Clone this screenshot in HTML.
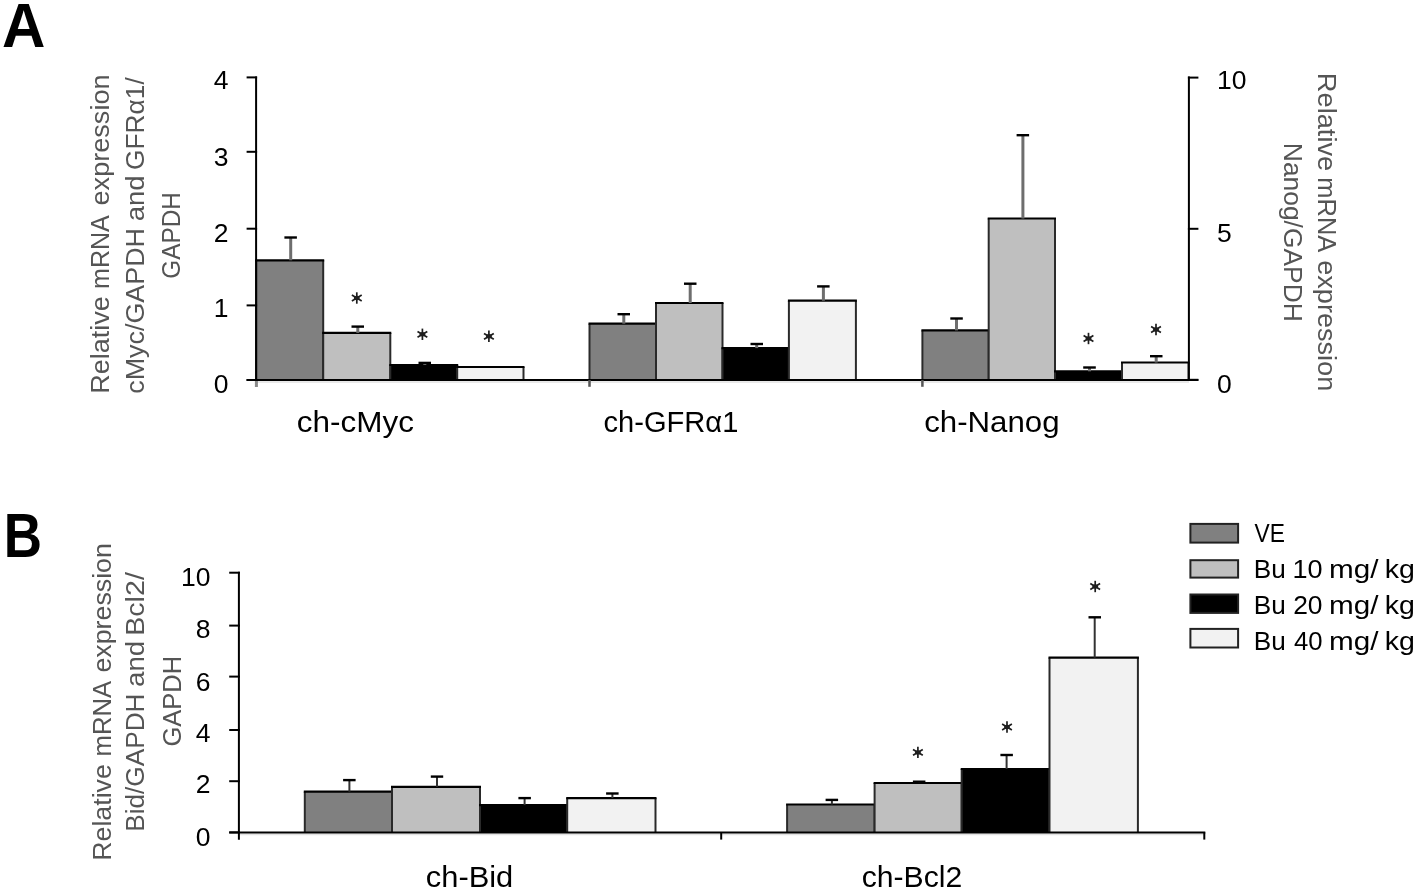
<!DOCTYPE html>
<html><head><meta charset="utf-8"><style>
html,body{margin:0;padding:0;background:#fff;overflow:hidden;}
svg{display:block;filter:grayscale(100%) blur(0.45px);}
text{font-family:"Liberation Sans",sans-serif;font-kerning:none;}
</style></head><body>
<svg width="1416" height="892" viewBox="0 0 1416 892">
<rect width="1416" height="892" fill="#fff"/>
<text x="2.10" y="46.80" font-size="62.3" fill="#000" font-weight="bold" textLength="43.38" lengthAdjust="spacingAndGlyphs">A</text>
<line x1="256.0" y1="382.0" x2="1189.0" y2="382.0" stroke="#e2e2e2" stroke-width="1.6"/>
<rect x="256.2" y="260.3" width="67.0" height="119.7" fill="#808080"/>
<line x1="256.2" y1="260.3" x2="256.2" y2="380.0" stroke="#2a2a2a" stroke-width="2"/>
<line x1="323.2" y1="260.3" x2="323.2" y2="380.0" stroke="#2a2a2a" stroke-width="2"/>
<line x1="255.2" y1="260.3" x2="324.2" y2="260.3" stroke="#000" stroke-width="2.2"/>
<rect x="323.2" y="332.9" width="67.1" height="47.1" fill="#bfbfbf"/>
<line x1="323.2" y1="332.9" x2="323.2" y2="380.0" stroke="#2a2a2a" stroke-width="2"/>
<line x1="390.3" y1="332.9" x2="390.3" y2="380.0" stroke="#2a2a2a" stroke-width="2"/>
<line x1="322.2" y1="332.9" x2="391.3" y2="332.9" stroke="#000" stroke-width="2.2"/>
<rect x="390.3" y="365.0" width="66.9" height="15.0" fill="#000000"/>
<line x1="390.3" y1="365.0" x2="390.3" y2="380.0" stroke="#2a2a2a" stroke-width="2"/>
<line x1="457.2" y1="365.0" x2="457.2" y2="380.0" stroke="#2a2a2a" stroke-width="2"/>
<line x1="389.3" y1="365.0" x2="458.2" y2="365.0" stroke="#000" stroke-width="2.2"/>
<rect x="457.2" y="367.0" width="66.3" height="13.0" fill="#f2f2f2"/>
<line x1="457.2" y1="367.0" x2="457.2" y2="380.0" stroke="#2a2a2a" stroke-width="2"/>
<line x1="523.5" y1="367.0" x2="523.5" y2="380.0" stroke="#2a2a2a" stroke-width="2"/>
<line x1="456.2" y1="367.0" x2="524.5" y2="367.0" stroke="#000" stroke-width="2.2"/>
<rect x="589.5" y="323.7" width="66.5" height="56.3" fill="#808080"/>
<line x1="589.5" y1="323.7" x2="589.5" y2="380.0" stroke="#2a2a2a" stroke-width="2"/>
<line x1="656.0" y1="323.7" x2="656.0" y2="380.0" stroke="#2a2a2a" stroke-width="2"/>
<line x1="588.5" y1="323.7" x2="657.0" y2="323.7" stroke="#000" stroke-width="2.2"/>
<rect x="656.0" y="303.0" width="66.5" height="77.0" fill="#bfbfbf"/>
<line x1="656.0" y1="303.0" x2="656.0" y2="380.0" stroke="#2a2a2a" stroke-width="2"/>
<line x1="722.5" y1="303.0" x2="722.5" y2="380.0" stroke="#2a2a2a" stroke-width="2"/>
<line x1="655.0" y1="303.0" x2="723.5" y2="303.0" stroke="#000" stroke-width="2.2"/>
<rect x="722.5" y="348.1" width="66.4" height="31.9" fill="#000000"/>
<line x1="722.5" y1="348.1" x2="722.5" y2="380.0" stroke="#2a2a2a" stroke-width="2"/>
<line x1="788.9" y1="348.1" x2="788.9" y2="380.0" stroke="#2a2a2a" stroke-width="2"/>
<line x1="721.5" y1="348.1" x2="789.9" y2="348.1" stroke="#000" stroke-width="2.2"/>
<rect x="788.9" y="300.7" width="67.0" height="79.3" fill="#f2f2f2"/>
<line x1="788.9" y1="300.7" x2="788.9" y2="380.0" stroke="#2a2a2a" stroke-width="2"/>
<line x1="855.9" y1="300.7" x2="855.9" y2="380.0" stroke="#2a2a2a" stroke-width="2"/>
<line x1="787.9" y1="300.7" x2="856.9" y2="300.7" stroke="#000" stroke-width="2.2"/>
<rect x="922.4" y="330.4" width="66.3" height="49.6" fill="#808080"/>
<line x1="922.4" y1="330.4" x2="922.4" y2="380.0" stroke="#2a2a2a" stroke-width="2"/>
<line x1="988.7" y1="330.4" x2="988.7" y2="380.0" stroke="#2a2a2a" stroke-width="2"/>
<line x1="921.4" y1="330.4" x2="989.7" y2="330.4" stroke="#000" stroke-width="2.2"/>
<rect x="988.7" y="218.5" width="66.3" height="161.5" fill="#bfbfbf"/>
<line x1="988.7" y1="218.5" x2="988.7" y2="380.0" stroke="#2a2a2a" stroke-width="2"/>
<line x1="1055.0" y1="218.5" x2="1055.0" y2="380.0" stroke="#2a2a2a" stroke-width="2"/>
<line x1="987.7" y1="218.5" x2="1056.0" y2="218.5" stroke="#000" stroke-width="2.2"/>
<rect x="1055.0" y="371.3" width="67.0" height="8.7" fill="#000000"/>
<line x1="1055.0" y1="371.3" x2="1055.0" y2="380.0" stroke="#2a2a2a" stroke-width="2"/>
<line x1="1122.0" y1="371.3" x2="1122.0" y2="380.0" stroke="#2a2a2a" stroke-width="2"/>
<line x1="1054.0" y1="371.3" x2="1123.0" y2="371.3" stroke="#000" stroke-width="2.2"/>
<rect x="1122.0" y="362.5" width="66.5" height="17.5" fill="#f2f2f2"/>
<line x1="1122.0" y1="362.5" x2="1122.0" y2="380.0" stroke="#2a2a2a" stroke-width="2"/>
<line x1="1188.5" y1="362.5" x2="1188.5" y2="380.0" stroke="#2a2a2a" stroke-width="2"/>
<line x1="1121.0" y1="362.5" x2="1189.5" y2="362.5" stroke="#000" stroke-width="2.2"/>
<line x1="290.7" y1="237.5" x2="290.7" y2="260.3" stroke="#6e6e6e" stroke-width="3"/>
<line x1="284.4" y1="237.5" x2="296.9" y2="237.5" stroke="#000" stroke-width="2.4"/>
<line x1="357.8" y1="326.6" x2="357.8" y2="332.9" stroke="#6e6e6e" stroke-width="3"/>
<line x1="351.5" y1="326.6" x2="364.0" y2="326.6" stroke="#000" stroke-width="2.4"/>
<line x1="424.8" y1="362.9" x2="424.8" y2="365.0" stroke="#6e6e6e" stroke-width="3"/>
<line x1="418.5" y1="362.9" x2="431.0" y2="362.9" stroke="#000" stroke-width="2.4"/>
<line x1="623.8" y1="314.2" x2="623.8" y2="323.7" stroke="#6e6e6e" stroke-width="3"/>
<line x1="617.5" y1="314.2" x2="630.0" y2="314.2" stroke="#000" stroke-width="2.4"/>
<line x1="690.2" y1="283.7" x2="690.2" y2="303.0" stroke="#6e6e6e" stroke-width="3"/>
<line x1="684.0" y1="283.7" x2="696.5" y2="283.7" stroke="#000" stroke-width="2.4"/>
<line x1="756.7" y1="344.0" x2="756.7" y2="348.1" stroke="#6e6e6e" stroke-width="3"/>
<line x1="750.5" y1="344.0" x2="763.0" y2="344.0" stroke="#000" stroke-width="2.4"/>
<line x1="823.4" y1="286.4" x2="823.4" y2="300.7" stroke="#6e6e6e" stroke-width="3"/>
<line x1="817.1" y1="286.4" x2="829.6" y2="286.4" stroke="#000" stroke-width="2.4"/>
<line x1="956.5" y1="318.5" x2="956.5" y2="330.4" stroke="#6e6e6e" stroke-width="3"/>
<line x1="950.3" y1="318.5" x2="962.8" y2="318.5" stroke="#000" stroke-width="2.4"/>
<line x1="1022.9" y1="135.2" x2="1022.9" y2="218.5" stroke="#6e6e6e" stroke-width="3"/>
<line x1="1016.6" y1="135.2" x2="1029.1" y2="135.2" stroke="#000" stroke-width="2.4"/>
<line x1="1089.5" y1="367.5" x2="1089.5" y2="371.3" stroke="#6e6e6e" stroke-width="3"/>
<line x1="1083.2" y1="367.5" x2="1095.8" y2="367.5" stroke="#000" stroke-width="2.4"/>
<line x1="1156.2" y1="356.2" x2="1156.2" y2="362.5" stroke="#6e6e6e" stroke-width="3"/>
<line x1="1150.0" y1="356.2" x2="1162.5" y2="356.2" stroke="#000" stroke-width="2.4"/>
<line x1="256.1" y1="76.4" x2="256.1" y2="381.0" stroke="#000" stroke-width="2"/>
<line x1="256.4" y1="381.0" x2="256.4" y2="387.0" stroke="#8a8a8a" stroke-width="3"/>
<line x1="246.6" y1="380.0" x2="257.1" y2="380.0" stroke="#000" stroke-width="2"/>
<text x="228.5" y="393.1" font-size="26.5" text-anchor="end" fill="#000">0</text>
<line x1="246.6" y1="305.4" x2="257.1" y2="305.4" stroke="#000" stroke-width="2"/>
<text x="228.5" y="316.8" font-size="26.5" text-anchor="end" fill="#000">1</text>
<line x1="246.6" y1="228.7" x2="257.1" y2="228.7" stroke="#000" stroke-width="2"/>
<text x="228.5" y="242.3" font-size="26.5" text-anchor="end" fill="#000">2</text>
<line x1="246.6" y1="151.8" x2="257.1" y2="151.8" stroke="#000" stroke-width="2"/>
<text x="228.5" y="165.6" font-size="26.5" text-anchor="end" fill="#000">3</text>
<line x1="246.6" y1="77.4" x2="257.1" y2="77.4" stroke="#000" stroke-width="2"/>
<text x="228.5" y="89.0" font-size="26.5" text-anchor="end" fill="#000">4</text>
<line x1="246.6" y1="380.0" x2="1198.4" y2="380.0" stroke="#000" stroke-width="2"/>
<line x1="589.5" y1="380.0" x2="589.5" y2="386.8" stroke="#555" stroke-width="2.5"/>
<line x1="922.4" y1="380.0" x2="922.4" y2="386.8" stroke="#555" stroke-width="2.5"/>
<line x1="1188.9" y1="76.6" x2="1188.9" y2="381.0" stroke="#000" stroke-width="2"/>
<line x1="1187.9" y1="379.8" x2="1198.4" y2="379.8" stroke="#000" stroke-width="2"/>
<text x="1217.0" y="393.3" font-size="26.5" text-anchor="start" fill="#000">0</text>
<line x1="1187.9" y1="228.8" x2="1198.4" y2="228.8" stroke="#000" stroke-width="2"/>
<text x="1217.0" y="242.4" font-size="26.5" text-anchor="start" fill="#000">5</text>
<line x1="1187.9" y1="77.6" x2="1198.4" y2="77.6" stroke="#000" stroke-width="2"/>
<text x="1217.0" y="89.3" font-size="26.5" text-anchor="start" fill="#000">10</text>
<line x1="356.8" y1="292.3" x2="356.8" y2="303.7" stroke="#1e1e1e" stroke-width="1.7"/>
<line x1="351.9" y1="295.1" x2="361.7" y2="300.9" stroke="#1e1e1e" stroke-width="1.7"/>
<line x1="351.9" y1="300.9" x2="361.7" y2="295.1" stroke="#1e1e1e" stroke-width="1.7"/>
<ellipse cx="356.8" cy="298.0" rx="2.9" ry="2.2" fill="#1e1e1e"/>
<line x1="422.4" y1="328.6" x2="422.4" y2="340.0" stroke="#1e1e1e" stroke-width="1.7"/>
<line x1="417.5" y1="331.4" x2="427.3" y2="337.2" stroke="#1e1e1e" stroke-width="1.7"/>
<line x1="417.5" y1="337.2" x2="427.3" y2="331.4" stroke="#1e1e1e" stroke-width="1.7"/>
<ellipse cx="422.4" cy="334.3" rx="2.9" ry="2.2" fill="#1e1e1e"/>
<line x1="488.9" y1="330.6" x2="488.9" y2="342.0" stroke="#1e1e1e" stroke-width="1.7"/>
<line x1="484.0" y1="333.4" x2="493.8" y2="339.2" stroke="#1e1e1e" stroke-width="1.7"/>
<line x1="484.0" y1="339.2" x2="493.8" y2="333.4" stroke="#1e1e1e" stroke-width="1.7"/>
<ellipse cx="488.9" cy="336.3" rx="2.9" ry="2.2" fill="#1e1e1e"/>
<line x1="1088.5" y1="332.8" x2="1088.5" y2="344.2" stroke="#1e1e1e" stroke-width="1.7"/>
<line x1="1083.6" y1="335.6" x2="1093.4" y2="341.4" stroke="#1e1e1e" stroke-width="1.7"/>
<line x1="1083.6" y1="341.4" x2="1093.4" y2="335.6" stroke="#1e1e1e" stroke-width="1.7"/>
<ellipse cx="1088.5" cy="338.5" rx="2.9" ry="2.2" fill="#1e1e1e"/>
<line x1="1156.0" y1="323.8" x2="1156.0" y2="335.2" stroke="#1e1e1e" stroke-width="1.7"/>
<line x1="1151.1" y1="326.6" x2="1160.9" y2="332.4" stroke="#1e1e1e" stroke-width="1.7"/>
<line x1="1151.1" y1="332.4" x2="1160.9" y2="326.6" stroke="#1e1e1e" stroke-width="1.7"/>
<ellipse cx="1156.0" cy="329.5" rx="2.9" ry="2.2" fill="#1e1e1e"/>
<text x="296.76" y="432.10" font-size="30" fill="#000" textLength="117.17" lengthAdjust="spacingAndGlyphs">ch-cMyc</text>
<text x="603.56" y="432.10" font-size="30" fill="#000" textLength="134.76" lengthAdjust="spacingAndGlyphs">ch-GFRα1</text>
<text x="924.17" y="432.10" font-size="30" fill="#000" textLength="135.44" lengthAdjust="spacingAndGlyphs">ch-Nanog</text>
<text transform="translate(109.20,393.71) rotate(-90)" x="0" y="0" font-size="26.5" fill="#555555" textLength="97.51" lengthAdjust="spacingAndGlyphs">Relative</text>
<text transform="translate(109.20,288.96) rotate(-90)" x="0" y="0" font-size="26.5" fill="#555555" textLength="73.71" lengthAdjust="spacingAndGlyphs">mRNA</text>
<text transform="translate(109.20,205.45) rotate(-90)" x="0" y="0" font-size="26.5" fill="#555555" textLength="131.01" lengthAdjust="spacingAndGlyphs">expression</text>
<text transform="translate(143.60,393.74) rotate(-90)" x="0" y="0" font-size="26.5" fill="#555555" textLength="165.73" lengthAdjust="spacingAndGlyphs">cMyc/GAPDH</text>
<text transform="translate(143.60,221.27) rotate(-90)" x="0" y="0" font-size="26.5" fill="#555555" textLength="45.84" lengthAdjust="spacingAndGlyphs">and</text>
<text transform="translate(143.60,170.03) rotate(-90)" x="0" y="0" font-size="26.5" fill="#555555" textLength="92.83" lengthAdjust="spacingAndGlyphs">GFRα1/</text>
<text transform="translate(180.20,278.72) rotate(-90)" x="0" y="0" font-size="26.5" fill="#555555" textLength="86.51" lengthAdjust="spacingAndGlyphs">GAPDH</text>
<text transform="translate(1318.00,72.87) rotate(90)" x="0" y="0" font-size="26.5" fill="#555555" textLength="98.34" lengthAdjust="spacingAndGlyphs">Relative</text>
<text transform="translate(1318.00,177.31) rotate(90)" x="0" y="0" font-size="26.5" fill="#555555" textLength="75.04" lengthAdjust="spacingAndGlyphs">mRNA</text>
<text transform="translate(1318.00,260.25) rotate(90)" x="0" y="0" font-size="26.5" fill="#555555" textLength="131.01" lengthAdjust="spacingAndGlyphs">expression</text>
<text transform="translate(1284.30,142.84) rotate(90)" x="0" y="0" font-size="26.5" fill="#555555" textLength="178.92" lengthAdjust="spacingAndGlyphs">Nanog/GAPDH</text>
<text x="3.66" y="557.00" font-size="62.5" fill="#000" font-weight="bold" textLength="38.25" lengthAdjust="spacingAndGlyphs">B</text>
<line x1="238.9" y1="834.4" x2="1204.0" y2="834.4" stroke="#e2e2e2" stroke-width="1.6"/>
<rect x="304.8" y="791.7" width="87.2" height="40.7" fill="#808080"/>
<line x1="304.8" y1="791.7" x2="304.8" y2="832.4" stroke="#2a2a2a" stroke-width="2"/>
<line x1="392.0" y1="791.7" x2="392.0" y2="832.4" stroke="#2a2a2a" stroke-width="2"/>
<line x1="303.8" y1="791.7" x2="393.0" y2="791.7" stroke="#000" stroke-width="2.2"/>
<rect x="392.0" y="786.8" width="88.0" height="45.6" fill="#bfbfbf"/>
<line x1="392.0" y1="786.8" x2="392.0" y2="832.4" stroke="#2a2a2a" stroke-width="2"/>
<line x1="480.0" y1="786.8" x2="480.0" y2="832.4" stroke="#2a2a2a" stroke-width="2"/>
<line x1="391.0" y1="786.8" x2="481.0" y2="786.8" stroke="#000" stroke-width="2.2"/>
<rect x="480.0" y="805.1" width="87.2" height="27.3" fill="#000000"/>
<line x1="480.0" y1="805.1" x2="480.0" y2="832.4" stroke="#2a2a2a" stroke-width="2"/>
<line x1="567.2" y1="805.1" x2="567.2" y2="832.4" stroke="#2a2a2a" stroke-width="2"/>
<line x1="479.0" y1="805.1" x2="568.2" y2="805.1" stroke="#000" stroke-width="2.2"/>
<rect x="567.2" y="798.1" width="88.3" height="34.3" fill="#f2f2f2"/>
<line x1="567.2" y1="798.1" x2="567.2" y2="832.4" stroke="#2a2a2a" stroke-width="2"/>
<line x1="655.5" y1="798.1" x2="655.5" y2="832.4" stroke="#2a2a2a" stroke-width="2"/>
<line x1="566.2" y1="798.1" x2="656.5" y2="798.1" stroke="#000" stroke-width="2.2"/>
<rect x="787.1" y="804.5" width="87.5" height="27.9" fill="#808080"/>
<line x1="787.1" y1="804.5" x2="787.1" y2="832.4" stroke="#2a2a2a" stroke-width="2"/>
<line x1="874.6" y1="804.5" x2="874.6" y2="832.4" stroke="#2a2a2a" stroke-width="2"/>
<line x1="786.1" y1="804.5" x2="875.6" y2="804.5" stroke="#000" stroke-width="2.2"/>
<rect x="874.6" y="783.0" width="87.1" height="49.4" fill="#bfbfbf"/>
<line x1="874.6" y1="783.0" x2="874.6" y2="832.4" stroke="#2a2a2a" stroke-width="2"/>
<line x1="961.7" y1="783.0" x2="961.7" y2="832.4" stroke="#2a2a2a" stroke-width="2"/>
<line x1="873.6" y1="783.0" x2="962.7" y2="783.0" stroke="#000" stroke-width="2.2"/>
<rect x="961.7" y="769.0" width="87.8" height="63.4" fill="#000000"/>
<line x1="961.7" y1="769.0" x2="961.7" y2="832.4" stroke="#2a2a2a" stroke-width="2"/>
<line x1="1049.5" y1="769.0" x2="1049.5" y2="832.4" stroke="#2a2a2a" stroke-width="2"/>
<line x1="960.7" y1="769.0" x2="1050.5" y2="769.0" stroke="#000" stroke-width="2.2"/>
<rect x="1049.5" y="657.6" width="88.4" height="174.8" fill="#f2f2f2"/>
<line x1="1049.5" y1="657.6" x2="1049.5" y2="832.4" stroke="#2a2a2a" stroke-width="2"/>
<line x1="1137.9" y1="657.6" x2="1137.9" y2="832.4" stroke="#2a2a2a" stroke-width="2"/>
<line x1="1048.5" y1="657.6" x2="1138.9" y2="657.6" stroke="#000" stroke-width="2.2"/>
<line x1="349.4" y1="780.1" x2="349.4" y2="791.7" stroke="#333" stroke-width="2"/>
<line x1="343.1" y1="780.1" x2="355.6" y2="780.1" stroke="#000" stroke-width="2.4"/>
<line x1="437.0" y1="776.6" x2="437.0" y2="786.8" stroke="#333" stroke-width="2"/>
<line x1="430.8" y1="776.6" x2="443.2" y2="776.6" stroke="#000" stroke-width="2.4"/>
<line x1="524.6" y1="798.1" x2="524.6" y2="805.1" stroke="#333" stroke-width="2"/>
<line x1="518.4" y1="798.1" x2="530.9" y2="798.1" stroke="#000" stroke-width="2.4"/>
<line x1="612.4" y1="793.5" x2="612.4" y2="798.1" stroke="#333" stroke-width="2"/>
<line x1="606.1" y1="793.5" x2="618.6" y2="793.5" stroke="#000" stroke-width="2.4"/>
<line x1="831.9" y1="799.9" x2="831.9" y2="804.5" stroke="#333" stroke-width="2"/>
<line x1="825.6" y1="799.9" x2="838.1" y2="799.9" stroke="#000" stroke-width="2.4"/>
<line x1="919.2" y1="781.7" x2="919.2" y2="783.0" stroke="#333" stroke-width="2"/>
<line x1="912.9" y1="781.7" x2="925.4" y2="781.7" stroke="#000" stroke-width="2.4"/>
<line x1="1006.6" y1="755.0" x2="1006.6" y2="769.0" stroke="#333" stroke-width="2"/>
<line x1="1000.4" y1="755.0" x2="1012.9" y2="755.0" stroke="#000" stroke-width="2.4"/>
<line x1="1094.7" y1="617.3" x2="1094.7" y2="657.6" stroke="#333" stroke-width="2"/>
<line x1="1088.5" y1="617.3" x2="1101.0" y2="617.3" stroke="#000" stroke-width="2.4"/>
<line x1="238.9" y1="571.7" x2="238.9" y2="839.7" stroke="#000" stroke-width="2"/>
<line x1="229.2" y1="832.4" x2="239.9" y2="832.4" stroke="#000" stroke-width="2"/>
<text x="210.6" y="846.0" font-size="26.5" text-anchor="end" fill="#000">0</text>
<line x1="229.2" y1="781.2" x2="239.9" y2="781.2" stroke="#000" stroke-width="2"/>
<text x="210.6" y="792.7" font-size="26.5" text-anchor="end" fill="#000">2</text>
<line x1="229.2" y1="730.0" x2="239.9" y2="730.0" stroke="#000" stroke-width="2"/>
<text x="210.6" y="741.5" font-size="26.5" text-anchor="end" fill="#000">4</text>
<line x1="229.2" y1="676.6" x2="239.9" y2="676.6" stroke="#000" stroke-width="2"/>
<text x="210.6" y="690.6" font-size="26.5" text-anchor="end" fill="#000">6</text>
<line x1="229.2" y1="625.6" x2="239.9" y2="625.6" stroke="#000" stroke-width="2"/>
<text x="210.6" y="637.5" font-size="26.5" text-anchor="end" fill="#000">8</text>
<line x1="229.2" y1="572.7" x2="239.9" y2="572.7" stroke="#000" stroke-width="2"/>
<text x="210.6" y="586.3" font-size="26.5" text-anchor="end" fill="#000">10</text>
<line x1="229.2" y1="832.4" x2="1205.3" y2="832.4" stroke="#000" stroke-width="2"/>
<line x1="721.2" y1="832.4" x2="721.2" y2="839.6" stroke="#000" stroke-width="2"/>
<line x1="1204.3" y1="832.4" x2="1204.3" y2="839.6" stroke="#000" stroke-width="2"/>
<line x1="917.9" y1="746.7" x2="917.9" y2="758.1" stroke="#1e1e1e" stroke-width="1.7"/>
<line x1="913.0" y1="749.5" x2="922.8" y2="755.2" stroke="#1e1e1e" stroke-width="1.7"/>
<line x1="913.0" y1="755.2" x2="922.8" y2="749.5" stroke="#1e1e1e" stroke-width="1.7"/>
<ellipse cx="917.9" cy="752.4" rx="2.9" ry="2.2" fill="#1e1e1e"/>
<line x1="1007.0" y1="721.3" x2="1007.0" y2="732.7" stroke="#1e1e1e" stroke-width="1.7"/>
<line x1="1002.1" y1="724.1" x2="1011.9" y2="729.9" stroke="#1e1e1e" stroke-width="1.7"/>
<line x1="1002.1" y1="729.9" x2="1011.9" y2="724.1" stroke="#1e1e1e" stroke-width="1.7"/>
<ellipse cx="1007.0" cy="727.0" rx="2.9" ry="2.2" fill="#1e1e1e"/>
<line x1="1095.2" y1="580.8" x2="1095.2" y2="592.2" stroke="#1e1e1e" stroke-width="1.7"/>
<line x1="1090.3" y1="583.6" x2="1100.1" y2="589.4" stroke="#1e1e1e" stroke-width="1.7"/>
<line x1="1090.3" y1="589.4" x2="1100.1" y2="583.6" stroke="#1e1e1e" stroke-width="1.7"/>
<ellipse cx="1095.2" cy="586.5" rx="2.9" ry="2.2" fill="#1e1e1e"/>
<text x="425.79" y="886.70" font-size="30" fill="#000" textLength="87.50" lengthAdjust="spacingAndGlyphs">ch-Bid</text>
<text x="861.72" y="886.70" font-size="30" fill="#000" textLength="100.50" lengthAdjust="spacingAndGlyphs">ch-Bcl2</text>
<text transform="translate(111.30,860.80) rotate(-90)" x="0" y="0" font-size="26.5" fill="#555555" textLength="96.68" lengthAdjust="spacingAndGlyphs">Relative</text>
<text transform="translate(111.30,756.51) rotate(-90)" x="0" y="0" font-size="26.5" fill="#555555" textLength="75.66" lengthAdjust="spacingAndGlyphs">mRNA</text>
<text transform="translate(111.30,672.54) rotate(-90)" x="0" y="0" font-size="26.5" fill="#555555" textLength="129.37" lengthAdjust="spacingAndGlyphs">expression</text>
<text transform="translate(144.20,831.85) rotate(-90)" x="0" y="0" font-size="26.5" fill="#555555" textLength="138.39" lengthAdjust="spacingAndGlyphs">Bid/GAPDH</text>
<text transform="translate(144.20,686.98) rotate(-90)" x="0" y="0" font-size="26.5" fill="#555555" textLength="46.16" lengthAdjust="spacingAndGlyphs">and</text>
<text transform="translate(144.20,635.85) rotate(-90)" x="0" y="0" font-size="26.5" fill="#555555" textLength="63.75" lengthAdjust="spacingAndGlyphs">Bcl2/</text>
<text transform="translate(180.80,746.48) rotate(-90)" x="0" y="0" font-size="26.5" fill="#555555" textLength="90.56" lengthAdjust="spacingAndGlyphs">GAPDH</text>
<rect x="1190.4" y="523.9" width="47.7" height="18.7" fill="#808080" stroke="#222" stroke-width="2"/>
<rect x="1190.4" y="560.2" width="47.7" height="17.4" fill="#bfbfbf" stroke="#222" stroke-width="2"/>
<rect x="1190.4" y="594.5" width="47.7" height="18.4" fill="#000000" stroke="#222" stroke-width="2"/>
<rect x="1190.4" y="628.9" width="47.7" height="18.6" fill="#f2f2f2" stroke="#222" stroke-width="2"/>
<text x="1254.60" y="542.10" font-size="26.5" fill="#000" textLength="30.38" lengthAdjust="spacingAndGlyphs">VE</text>
<text x="1253.76" y="578.10" font-size="26.5" fill="#000" textLength="31.98" lengthAdjust="spacingAndGlyphs">Bu</text>
<text x="1292.44" y="578.10" font-size="26.5" fill="#000" textLength="30.12" lengthAdjust="spacingAndGlyphs">10</text>
<text x="1328.93" y="578.10" font-size="26.5" fill="#000" textLength="49.47" lengthAdjust="spacingAndGlyphs">mg/</text>
<text x="1384.68" y="578.10" font-size="26.5" fill="#000" textLength="30.17" lengthAdjust="spacingAndGlyphs">kg</text>
<text x="1253.76" y="614.00" font-size="26.5" fill="#000" textLength="31.98" lengthAdjust="spacingAndGlyphs">Bu</text>
<text x="1293.17" y="614.00" font-size="26.5" fill="#000" textLength="29.36" lengthAdjust="spacingAndGlyphs">20</text>
<text x="1328.93" y="614.00" font-size="26.5" fill="#000" textLength="49.47" lengthAdjust="spacingAndGlyphs">mg/</text>
<text x="1384.68" y="614.00" font-size="26.5" fill="#000" textLength="30.17" lengthAdjust="spacingAndGlyphs">kg</text>
<text x="1253.76" y="649.90" font-size="26.5" fill="#000" textLength="31.98" lengthAdjust="spacingAndGlyphs">Bu</text>
<text x="1293.91" y="649.90" font-size="26.5" fill="#000" textLength="28.59" lengthAdjust="spacingAndGlyphs">40</text>
<text x="1328.93" y="649.90" font-size="26.5" fill="#000" textLength="49.47" lengthAdjust="spacingAndGlyphs">mg/</text>
<text x="1384.68" y="649.90" font-size="26.5" fill="#000" textLength="30.17" lengthAdjust="spacingAndGlyphs">kg</text>
</svg>
</body></html>
